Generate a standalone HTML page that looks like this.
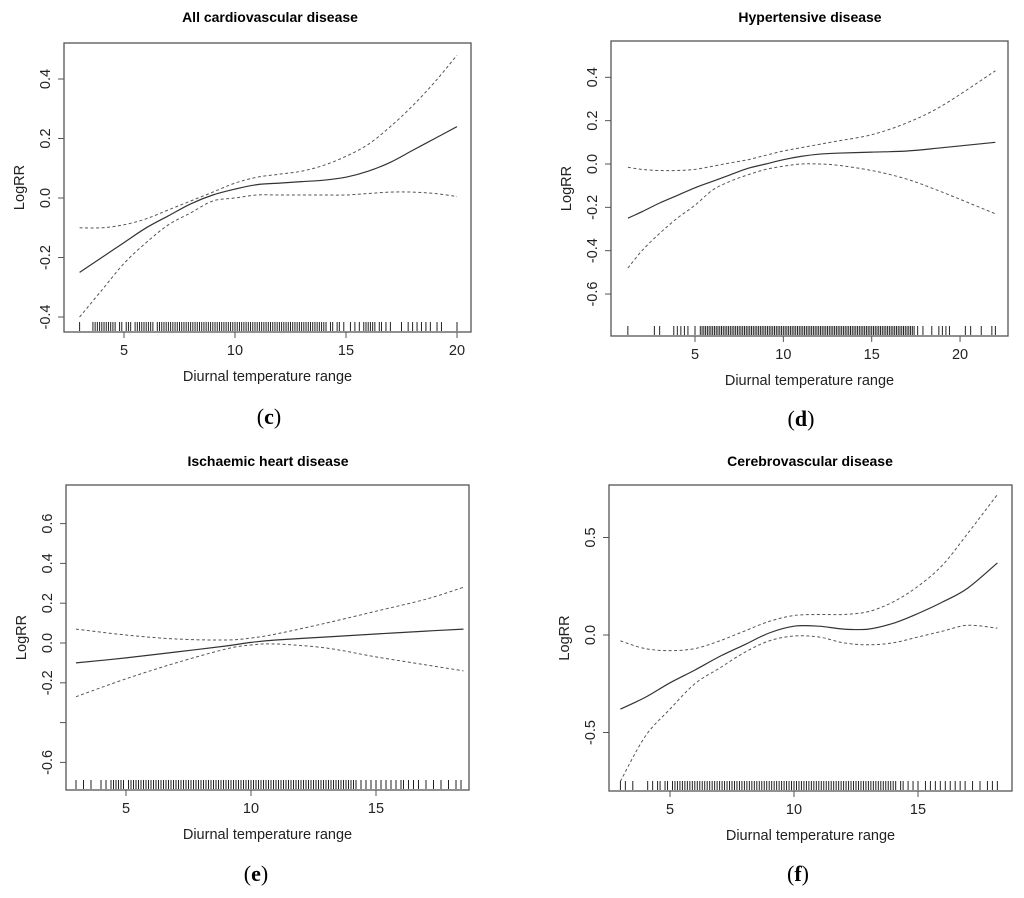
<!DOCTYPE html>
<html><head><meta charset="utf-8">
<style>
body{margin:0;background:#fff;}
svg{display:block;font-family:"Liberation Sans",Arial,sans-serif;}
.t{font-weight:bold;font-size:14px;text-anchor:middle;}
.tk{font-size:14.5px;fill:#222;}
.lab{font-family:"Liberation Serif",serif;font-size:22px;text-anchor:middle;}
</style></head>
<body>
<svg id="fig" width="1024" height="898" viewBox="0 0 1024 898" xmlns="http://www.w3.org/2000/svg"></svg>
<script>
// ---- data arrays ----
const cX=[3,4,5,6,7,8,9,10,11,12,13,14,15,16,17,18,19,20];
const cFit=[-0.25,-0.20,-0.15,-0.10,-0.06,-0.02,0.01,0.03,0.045,0.05,0.055,0.06,0.07,0.09,0.12,0.16,0.20,0.24];
const cUp=[-0.10,-0.10,-0.09,-0.07,-0.04,-0.01,0.02,0.05,0.07,0.08,0.09,0.11,0.14,0.18,0.24,0.31,0.39,0.48];
const cLo=[-0.40,-0.31,-0.22,-0.15,-0.09,-0.05,-0.01,0.0,0.01,0.01,0.01,0.01,0.01,0.015,0.02,0.02,0.015,0.005];
const cRug=[3,3.6,3.7,3.8,3.9,4,4.1,4.2,4.3,4.4,4.5,4.6,4.8,4.9,5.1,5.2,5.3,5.5,5.6,5.7,5.8,5.9,6,6.1,6.2,6.3,6.5,6.6,6.7,6.8,6.9,7,7.1,7.2,7.3,7.4,7.5,7.6,7.7,7.8,7.9,8,8.1,8.2,8.3,8.4,8.5,8.6,8.7,8.8,8.9,9,9.1,9.2,9.3,9.4,9.5,9.6,9.7,9.8,9.9,10,10.1,10.2,10.3,10.4,10.5,10.6,10.7,10.8,10.9,11,11.1,11.2,11.3,11.4,11.5,11.6,11.7,11.8,11.9,12,12.1,12.2,12.3,12.4,12.5,12.6,12.7,12.8,12.9,13,13.1,13.2,13.3,13.4,13.5,13.6,13.7,13.8,13.9,14,14.1,14.3,14.4,14.6,14.7,14.9,15.2,15.4,15.6,15.8,15.9,16,16.1,16.2,16.3,16.5,16.6,16.8,17,17.5,17.8,18,18.2,18.4,18.6,18.8,19.1,19.3,20];
const dX=[1.2,2,3,4,5,6,7,8,9,10,11,12,13,15,17,19,22];
const dFit=[-0.25,-0.22,-0.18,-0.145,-0.11,-0.08,-0.05,-0.02,0.0,0.02,0.035,0.045,0.05,0.055,0.06,0.075,0.10];
const dUp=[-0.015,-0.025,-0.03,-0.03,-0.025,-0.01,0.005,0.02,0.04,0.06,0.075,0.09,0.105,0.135,0.19,0.27,0.43];
const dLo=[-0.48,-0.40,-0.32,-0.25,-0.19,-0.12,-0.08,-0.05,-0.025,-0.01,0.0,0.0,-0.005,-0.03,-0.07,-0.13,-0.23];
const dRug=[1.2,2.7,3,3.8,4,4.2,4.4,4.6,5,5.3,5.4,5.5,5.6,5.7,5.8,5.9,6,6.1,6.2,6.3,6.4,6.5,6.6,6.7,6.8,6.9,7,7.1,7.2,7.3,7.4,7.5,7.6,7.7,7.8,7.9,8,8.1,8.2,8.3,8.4,8.5,8.6,8.7,8.8,8.9,9,9.1,9.2,9.3,9.4,9.5,9.6,9.7,9.8,9.9,10,10.1,10.2,10.3,10.4,10.5,10.6,10.7,10.8,10.9,11,11.1,11.2,11.3,11.4,11.5,11.6,11.7,11.8,11.9,12,12.1,12.2,12.3,12.4,12.5,12.6,12.7,12.8,12.9,13,13.1,13.2,13.3,13.4,13.5,13.6,13.7,13.8,13.9,14,14.1,14.2,14.3,14.4,14.5,14.6,14.7,14.8,14.9,15,15.1,15.2,15.3,15.4,15.5,15.6,15.7,15.8,15.9,16,16.1,16.2,16.3,16.4,16.5,16.6,16.7,16.8,16.9,17,17.1,17.2,17.3,17.4,17.6,17.9,18.4,18.8,19,19.2,19.4,20.3,20.6,21.2,21.8,22];
const eX=[3,5,7,9,10,11,13,15,17,18.5];
const eFit=[-0.10,-0.075,-0.045,-0.015,0.003,0.015,0.03,0.045,0.06,0.07];
const eUp=[0.07,0.04,0.02,0.015,0.025,0.045,0.10,0.16,0.22,0.28];
const eLo=[-0.27,-0.18,-0.10,-0.03,-0.01,-0.005,-0.025,-0.07,-0.11,-0.14];
const eRug=[3,3.3,3.6,4,4.2,4.4,4.5,4.6,4.7,4.8,4.9,5.1,5.2,5.3,5.4,5.5,5.6,5.7,5.8,5.9,6,6.1,6.2,6.3,6.4,6.5,6.6,6.7,6.8,6.9,7,7.1,7.2,7.3,7.4,7.5,7.6,7.7,7.8,7.9,8,8.1,8.2,8.3,8.4,8.5,8.6,8.7,8.8,8.9,9,9.1,9.2,9.3,9.4,9.5,9.6,9.7,9.8,9.9,10,10.1,10.2,10.3,10.4,10.5,10.6,10.7,10.8,10.9,11,11.1,11.2,11.3,11.4,11.5,11.6,11.7,11.8,11.9,12,12.1,12.2,12.3,12.4,12.5,12.6,12.7,12.8,12.9,13,13.1,13.2,13.3,13.4,13.5,13.6,13.7,13.8,13.9,14,14.1,14.2,14.4,14.6,14.8,15,15.2,15.4,15.6,15.8,16,16.1,16.3,16.5,16.7,17,17.3,17.6,17.9,18.2,18.4];
const fX=[3,4,5,6,7,8,9,10,11,12,13,14,15,16,17,18.2];
const fFit=[-0.38,-0.32,-0.245,-0.18,-0.11,-0.05,0.01,0.045,0.045,0.03,0.03,0.06,0.11,0.17,0.24,0.37];
const fUp=[-0.03,-0.07,-0.08,-0.07,-0.03,0.02,0.07,0.10,0.105,0.105,0.12,0.17,0.25,0.36,0.52,0.72];
const fLo=[-0.75,-0.52,-0.38,-0.25,-0.17,-0.09,-0.03,-0.005,-0.01,-0.04,-0.05,-0.04,-0.01,0.02,0.05,0.035];
const fRug=[3,3.2,3.5,4.1,4.3,4.5,4.6,4.8,4.9,5.1,5.2,5.3,5.4,5.5,5.6,5.7,5.8,5.9,6,6.1,6.2,6.3,6.4,6.5,6.6,6.7,6.8,6.9,7,7.1,7.2,7.3,7.4,7.5,7.6,7.7,7.8,7.9,8,8.1,8.2,8.3,8.4,8.5,8.6,8.7,8.8,8.9,9,9.1,9.2,9.3,9.4,9.5,9.6,9.7,9.8,9.9,10,10.1,10.2,10.3,10.4,10.5,10.6,10.7,10.8,10.9,11,11.1,11.2,11.3,11.4,11.5,11.6,11.7,11.8,11.9,12,12.1,12.2,12.3,12.4,12.5,12.6,12.7,12.8,12.9,13,13.1,13.2,13.3,13.4,13.5,13.6,13.7,13.8,13.9,14,14.1,14.3,14.4,14.6,14.8,15,15.3,15.5,15.7,15.9,16.1,16.3,16.5,16.7,16.9,17.2,17.5,17.8,18,18.2];
const cYTicks=[0.4,0.2,0.0,-0.2,-0.4];
const dYTicks=[0.4,0.2,0.0,-0.2,-0.4,-0.6];
const eYTicks=[0.6,0.4,0.2,0.0,-0.2,-0.4,-0.6];
const eYLabels=["0.6","0.4","0.2","0.0","-0.2","","-0.6"];
const fYTicks=[0.5,0.0,-0.5];
const cXTicks=[5,10,15,20];
const dXTicks=[5,10,15,20];
const eXTicks=[5,10,15];
const fXTicks=[5,10,15];

const NS="http://www.w3.org/2000/svg";
const svg=document.getElementById('fig');
function mk(tag,attrs,parent){const e=document.createElementNS(NS,tag);for(const k in attrs)e.setAttribute(k,attrs[k]);(parent||svg).appendChild(e);return e;}
function smooth(pts){let d="M"+pts[0][0]+","+pts[0][1];for(let i=0;i<pts.length-1;i++){const p0=pts[Math.max(0,i-1)],p1=pts[i],p2=pts[i+1],p3=pts[Math.min(pts.length-1,i+2)];const c1=[p1[0]+(p2[0]-p0[0])/6,p1[1]+(p2[1]-p0[1])/6],c2=[p2[0]-(p3[0]-p1[0])/6,p2[1]-(p3[1]-p1[1])/6];d+=" C"+c1+" "+c2+" "+p2;}return d;}

function panel(o){
  const g=mk('g',{});
  
  
  const sx=v=>o.x0px+(v-o.x0)*o.kx, sy=v=>o.y0px-(v)*o.ky;
  const t=mk('text',{x:o.tx,y:o.ty,class:'t'},g);t.textContent=o.title;
  
  const box=mk('rect',{x:o.L,y:o.T,width:o.R-o.L,height:o.B-o.T,fill:'none',stroke:'#555','stroke-width':1.3},g);
  
  o.yt.forEach((v,i)=>{const y=sy(v);mk('line',{x1:o.L-6,x2:o.L,y1:y,y2:y,stroke:'#555'},g);
    const lbl=o.yl?o.yl[i]:v.toFixed(1);
    if(lbl){const tx=mk('text',{class:'tk','text-anchor':'middle',transform:`translate(${o.L-14},${y}) rotate(-90)`},g);tx.textContent=lbl;
    }});
  o.xt.forEach(v=>{const x=sx(v);mk('line',{x1:x,x2:x,y1:o.B,y2:o.B+6,stroke:'#555'},g);
    const tx=mk('text',{class:'tk','text-anchor':'middle',x:x,y:o.B+23},g);tx.textContent=v;
    });
  const yt=mk('text',{class:'tk','text-anchor':'middle',transform:`translate(${o.L-40},${(o.T+o.B)/2}) rotate(-90)`},g);yt.textContent='LogRR';
  
  const xt=mk('text',{class:'tk','text-anchor':'middle',x:(o.L+o.R)/2,y:o.B+49},g);xt.textContent='Diurnal temperature range';
  
  const lb=mk('text',{class:'lab',x:o.lx,y:o.ly},g);
  lb.innerHTML='(<tspan font-weight="bold">'+o.letter+'</tspan>)';
  
  [[o.up,'upper-ci',true],[o.lo,'lower-ci',true],[o.fit,'fit-line',false]].forEach(([arr,nm,dash])=>{
    const pts=o.xs.map((x,i)=>[+sx(x).toFixed(1),+sy(arr[i]).toFixed(1)]);
    const p=mk('path',{d:smooth(pts),fill:'none',stroke:dash?'#555':'#333','stroke-width':dash?1:1.2,'stroke-dasharray':dash?'3,2.5':'none'},g);
    });
  o.rug.forEach(v=>{const x=sx(v);const l=mk('line',{x1:x,x2:x,y1:o.B-10,y2:o.B-1,stroke:'#222','stroke-width':1},g);
    });
}
panel({id:'cvd',title:'All cardiovascular disease',tx:270,ty:22,L:64,R:471,T:43,B:332,x0:5,x0px:124,kx:22.2,y0px:198,ky:297.5,
  yt:cYTicks,xt:cXTicks,xs:cX,fit:cFit,up:cUp,lo:cLo,rug:cRug,letter:'c',lx:269,ly:424});
panel({id:'hypertensive',title:'Hypertensive disease',tx:810,ty:22,L:611,R:1008,T:41,B:336,x0:5,x0px:695,kx:17.67,y0px:164,ky:216.7,
  yt:dYTicks,xt:dXTicks,xs:dX,fit:dFit,up:dUp,lo:dLo,rug:dRug,letter:'d',lx:801,ly:426});
panel({id:'ischaemic',title:'Ischaemic heart disease',tx:268,ty:466,L:66,R:469,T:485,B:790,x0:5,x0px:126,kx:25,y0px:643,ky:199,
  yt:eYTicks,yl:eYLabels,xt:eXTicks,xs:eX,fit:eFit,up:eUp,lo:eLo,rug:eRug,letter:'e',lx:256,ly:881});
panel({id:'cerebrovascular',title:'Cerebrovascular disease',tx:810,ty:466,L:609,R:1012,T:485,B:791,x0:5,x0px:670,kx:24.8,y0px:635,ky:195,
  yt:fYTicks,xt:fXTicks,xs:fX,fit:fFit,up:fUp,lo:fLo,rug:fRug,letter:'f',lx:798,ly:881});
</script>
</body></html>
